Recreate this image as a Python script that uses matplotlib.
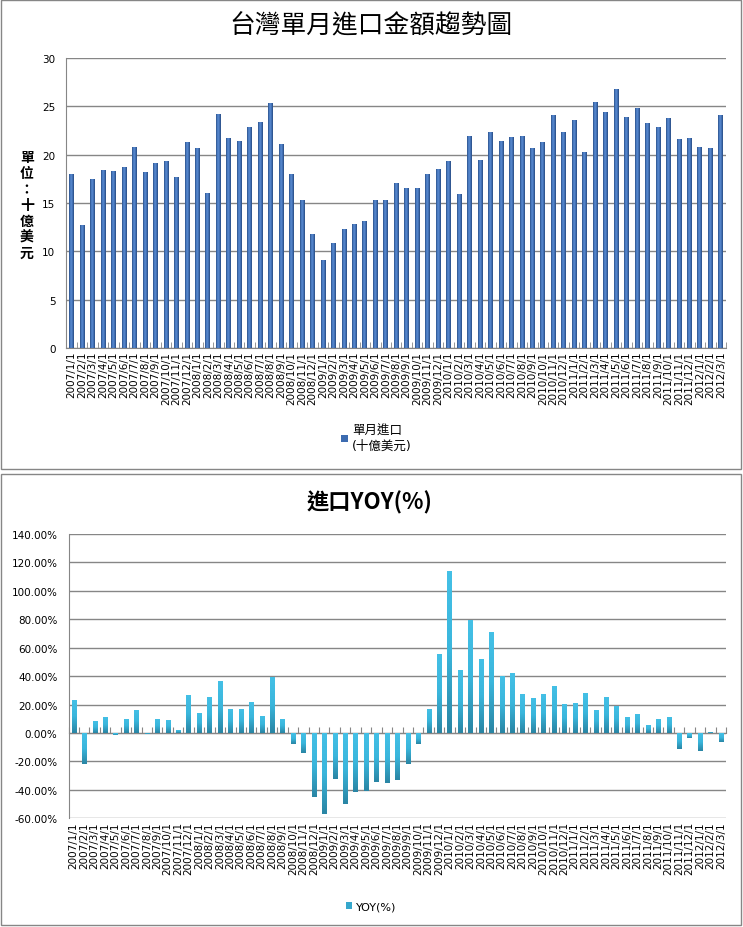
import numpy as np
import matplotlib
matplotlib.use("Agg")
import matplotlib.pyplot as plt
from matplotlib.patches import Rectangle
from matplotlib.colors import LinearSegmentedColormap

plt.rcParams['font.family'] = ['DejaVu Sans', 'Noto Sans CJK TC']

# months 2007/1 .. 2012/3
months = []
for yr in range(2007, 2013):
    for m in range(1, 13):
        if yr == 2012 and m > 3:
            break
        months.append("%d/%d/1" % (yr, m))

# monthly imports, billion USD
imports = [18.0, 12.7, 17.5, 18.4, 18.3, 18.7, 20.8, 18.2, 19.1, 19.3, 17.7, 21.3,
           20.7, 16.0, 24.2, 21.7, 21.4, 22.9, 23.4, 25.3, 21.1, 18.0, 15.3, 11.8,
           9.1, 10.9, 12.3, 12.8, 13.1, 15.3, 15.3, 17.1, 16.6, 16.6, 18.0, 18.5,
           19.3, 15.9, 21.9, 19.4, 22.3, 21.4, 21.8, 21.9, 20.7, 21.3, 24.1, 22.3,
           23.6, 20.3, 25.5, 24.4, 26.8, 23.9, 24.8, 23.3, 22.9, 23.8, 21.6, 21.7,
           20.8, 20.7, 24.1]

# year over year change, %
yoy = [23.5, -21.6, 8.2, 11.5, -1.2, 10.1, 16.4, -1.0, 10.1, 9.4, 2.3, 27.0,
       14.3, 25.6, 36.9, 17.1, 17.1, 22.1, 12.2, 39.7, 10.1, -7.5, -13.8, -44.8,
       -56.8, -32.2, -49.8, -41.3, -40.6, -34.3, -35.0, -32.9, -21.6, -7.5, 17.1, 55.9,
       114.3, 44.6, 79.3, 52.3, 71.4, 40.4, 42.5, 27.7, 24.9, 27.7, 33.3, 20.7,
       21.4, 28.4, 16.4, 25.6, 19.2, 11.5, 13.6, 5.9, 10.1, 11.5, -11.0, -3.3,
       -12.4, 0.9, -6.1]

grid_c = '#868686'
x = np.arange(len(months))

# excel-like bar shading
blue_cm = LinearSegmentedColormap.from_list('b', ['#2A4E86', '#4A7CC2', '#5A8AD0', '#3F6DB0', '#284A80'])
cyan_cm = LinearSegmentedColormap.from_list('c', ['#2A86A5', '#3AB6DC', '#44C0E6'])


def shade(ax, bars, cmap, horizontal):
    if horizontal:
        grad = np.linspace(0, 1, 32).reshape(1, -1)
    else:
        grad = np.linspace(0, 1, 32).reshape(-1, 1)
    for r in bars:
        x0, y0 = r.get_xy()
        w, h = r.get_width(), r.get_height()
        y_lo, y_hi = min(y0, y0 + h), max(y0, y0 + h)
        im = ax.imshow(grad, extent=[x0, x0 + w, y_lo, y_hi], origin='lower',
                       aspect='auto', cmap=cmap, zorder=4, interpolation='bilinear')
        im.set_clip_path(r)


fig = plt.figure(figsize=(7.43, 9.28), dpi=100)

# panel frames
fig.patches.append(Rectangle((0.002, 0.4935), 0.995, 0.5054, transform=fig.transFigure,
                             fill=False, edgecolor=grid_c, linewidth=1))
fig.patches.append(Rectangle((0.002, 0.0022), 0.995, 0.486, transform=fig.transFigure,
                             fill=False, edgecolor=grid_c, linewidth=1))

# ---- top chart ----
ax1 = fig.add_axes([0.0895, 0.6239, 0.8876, 0.3125])
b1 = ax1.bar(x, imports, width=0.45, color='#3C6BB0', linewidth=0,
             label='單月進口\n(十億美元)', zorder=3)
shade(ax1, b1, blue_cm, True)
ax1.set_xlim(-0.5, len(months) - 0.5)
ax1.set_ylim(0, 30)
ax1.set_yticks(np.arange(0, 31, 5))
ax1.yaxis.grid(True, color=grid_c, linewidth=1)
ax1.set_axisbelow(True)
for s in ['top', 'right']:
    ax1.spines[s].set_visible(False)
for s in ['left', 'bottom']:
    ax1.spines[s].set_color(grid_c)
ax1.set_xticks(x)
ax1.set_xticklabels(months, rotation=90, fontsize=7.5)
ax1.set_xticks(np.arange(len(months) + 1) - 0.5, minor=True)
ax1.tick_params(axis='x', which='major', length=0, pad=2)
ax1.tick_params(axis='x', which='minor', length=4, direction='in', color=grid_c)
ax1.tick_params(axis='y', length=0, labelsize=7.5, pad=8)
ax1.legend(loc='center', bbox_to_anchor=(0.47, -0.31), frameon=False, fontsize=9,
           handlelength=0.6, handleheight=0.6, handletextpad=0.3)

fig.text(0.4993, 0.971, '台灣單月進口金額趨勢圖', fontsize=18.5, ha='center', va='center',
         family=['Noto Sans CJK TC'])
fig.text(0.036, 0.778, '\n'.join('單位：十億美元'), fontsize=10, fontweight='bold',
         ha='center', va='center', linespacing=1.17, family=['Noto Sans CJK TC'])

# ---- bottom chart ----
ax2 = fig.add_axes([0.0922, 0.1171, 0.885, 0.3064])
b2 = ax2.bar(x, yoy, width=0.4, color='#35A7CC', linewidth=0, label='YOY(%)', zorder=3)
shade(ax2, b2, cyan_cm, False)
ax2.set_xlim(-0.5, len(months) - 0.5)
ax2.set_ylim(-60, 140)
ax2.set_yticks(np.arange(-60, 141, 20))
ax2.set_yticklabels(['%.2f%%' % v for v in np.arange(-60, 141, 20)])
ax2.yaxis.grid(True, color=grid_c, linewidth=1)
ax2.set_axisbelow(True)
for s in ['top', 'right']:
    ax2.spines[s].set_visible(False)
ax2.spines['left'].set_color(grid_c)
ax2.spines['bottom'].set_position(('data', 0))
ax2.spines['bottom'].set_color(grid_c)
ax2.set_xticks(np.arange(len(months) + 1) - 0.5)
ax2.tick_params(axis='x', length=4, direction='in', color=grid_c, labelbottom=False)
ax2.tick_params(axis='y', length=0, labelsize=7.5, pad=8)
sec = ax2.secondary_xaxis(0.0)
sec.set_xticks(x)
sec.set_xticklabels(months, rotation=90, fontsize=7.5)
sec.tick_params(length=0, pad=2)
sec.spines['bottom'].set_visible(False)
ax2.legend(loc='center', bbox_to_anchor=(0.46, -0.31), frameon=False, fontsize=8,
           handlelength=0.6, handleheight=0.6, handletextpad=0.3)

fig.text(0.497, 0.458, '進口YOY(%)', fontsize=16, fontweight='bold', ha='center',
         va='center', family=['Noto Sans CJK TC', 'DejaVu Sans'])

fig.savefig('out.png', dpi=100)
